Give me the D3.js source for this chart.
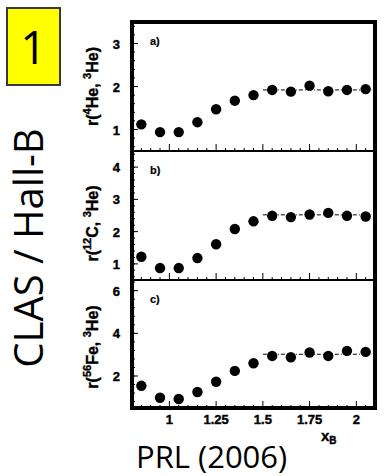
<!DOCTYPE html>
<html>
<head>
<meta charset="utf-8">
<script src="https://cdn.jsdelivr.net/npm/d3@7"></script>
<style>
  body { margin: 0; background: #fff; }
  svg { display: block; }
</style>
</head>
<body>
<div id="chart"></div>
<script>
// x_B bins and the three ratio series
var xB = [0.85, 0.95, 1.05, 1.15, 1.25, 1.35, 1.45, 1.55, 1.65, 1.75, 1.85, 1.95, 2.05];
var ratioHe4 = [1.12, 0.94, 0.94, 1.17, 1.47, 1.67, 1.80, 1.92, 1.88, 2.02, 1.89, 1.92, 1.94];
var ratioC12 = [1.22, 0.87, 0.87, 1.18, 1.61, 2.08, 2.32, 2.49, 2.45, 2.53, 2.58, 2.49, 2.47];
var ratioFe56 = [1.54, 0.98, 0.92, 1.25, 1.73, 2.24, 2.60, 2.94, 2.88, 3.10, 2.94, 3.18, 3.13];
var plateau = [1.92, 2.52, 3.02];
var panelTags = ["a)", "b)", "c)"];
var nuclei = [["4", "He"], ["12", "C"], ["56", "Fe"]];
var yDomains = [[0.5, 3.5], [0.5, 4.5], [0.5, 6.5]];
var yMajor = [[1, 2, 3], [1, 2, 3, 4], [2, 4, 6]];
var xMajor = [1, 1.25, 1.5, 1.75, 2];

var width = 385, height = 476;
var left = 132, right = 375;
var panelTop = [22, 151, 280], panelBottom = [151, 280, 408];
var titleShift = [0, 8, 3];

var svg = d3.select("#chart").append("svg")
  .attr("width", width)
  .attr("height", height);

var x = d3.scaleLinear().domain([0.8, 2.1]).range([left, right]);
var series = [ratioHe4, ratioC12, ratioFe56];

function boldText(sel, size) {
  return sel
    .style("font-family", "Liberation Sans, Arial, sans-serif")
    .style("font-weight", "bold")
    .style("font-size", size + "px")
    .attr("stroke", "#000")
    .attr("stroke-width", 0.4);
}

// big rotated title and the yellow number box
svg.append("rect")
  .attr("x", 7).attr("y", 8).attr("width", 53).attr("height", 77)
  .attr("fill", "#ffff00").attr("stroke", "#3a3a3a").attr("stroke-width", 2);
svg.append("text")
  .attr("x", 33.5).attr("y", 64)
  .attr("text-anchor", "middle")
  .style("font-family", "Open Sans, sans-serif")
  .style("font-size", "46px")
  .text("1");

svg.append("text")
  .attr("transform", "translate(43,248) rotate(-90)")
  .attr("text-anchor", "middle")
  .style("font-family", "Open Sans, sans-serif")
  .style("font-size", "40px")
  .text("CLAS / Hall-B");

series.forEach(function(vals, i) {
  var y = d3.scaleLinear().domain(yDomains[i]).range([panelBottom[i], panelTop[i]]);
  var g = svg.append("g");

  // x ticks, inward
  var minorX = d3.range(0.85, 2.1, 0.05);
  g.selectAll(".xminor").data(minorX).enter().append("line")
    .attr("x1", function(d) { return x(d); })
    .attr("x2", function(d) { return x(d); })
    .attr("y1", panelBottom[i])
    .attr("y2", function(d) {
      var major = xMajor.some(function(m) { return Math.abs(m - d) < 1e-6; });
      return panelBottom[i] - (major ? 7 : 3);
    })
    .attr("stroke", "#000").attr("stroke-width", 1);

  // y ticks, inward
  var step = i == 2 ? 0.4 : 0.2;
  var minorY = d3.range(Math.ceil(yDomains[i][0] / step) * step, yDomains[i][1], step);
  g.selectAll(".yminor").data(minorY).enter().append("line")
    .attr("x1", left).attr("x2", left + 3)
    .attr("y1", function(d) { return y(d); })
    .attr("y2", function(d) { return y(d); })
    .attr("stroke", "#000").attr("stroke-width", 1);
  g.selectAll(".ymajor").data(yMajor[i]).enter().append("line")
    .attr("x1", left).attr("x2", left + 6)
    .attr("y1", function(d) { return y(d); })
    .attr("y2", function(d) { return y(d); })
    .attr("stroke", "#000").attr("stroke-width", 1);
  boldText(g.selectAll(".ylab").data(yMajor[i]).enter().append("text"), 13)
    .attr("x", left - 12)
    .attr("y", function(d) { return y(d) + 5; })
    .attr("text-anchor", "end")
    .text(function(d) { return d; });

  // panel tag
  boldText(g.append("text"), 11)
    .attr("x", 150).attr("y", panelTop[i] + 23)
    .attr("stroke-width", 0.2)
    .text(panelTags[i]);

  // plateau line
  g.append("line")
    .attr("x1", x(1.5)).attr("x2", x(2.08))
    .attr("y1", y(plateau[i])).attr("y2", y(plateau[i]))
    .attr("stroke", "#000").attr("stroke-width", 1)
    .attr("stroke-dasharray", "4,2,1,2");

  g.selectAll("circle").data(vals).enter().append("circle")
    .attr("cx", function(d, j) { return x(xB[j]); })
    .attr("cy", function(d) { return y(d); })
    .attr("r", 5.2)
    .attr("fill", "#000");

  // y axis title r(A, 3He)
  var cy = (panelTop[i] + panelBottom[i]) / 2 + titleShift[i];
  var t = boldText(g.append("text"), 16)
    .attr("transform", "translate(98," + cy + ") rotate(-90)")
    .attr("text-anchor", "middle");
  t.append("tspan").text("r(");
  t.append("tspan").attr("dy", -7).style("font-size", "11px").text(nuclei[i][0]);
  t.append("tspan").attr("dy", 7).text(nuclei[i][1] + ", ");
  t.append("tspan").attr("dy", -7).style("font-size", "11px").text("3");
  t.append("tspan").attr("dy", 7).text("He)");
});

// frame: thick outer box, thinner dividers
svg.append("line").attr("x1", left).attr("x2", right)
  .attr("y1", panelBottom[0]).attr("y2", panelBottom[0])
  .attr("stroke", "#000").attr("stroke-width", 2);
svg.append("line").attr("x1", left).attr("x2", right)
  .attr("y1", panelBottom[1]).attr("y2", panelBottom[1])
  .attr("stroke", "#000").attr("stroke-width", 2);
svg.append("rect")
  .attr("x", left).attr("y", panelTop[0])
  .attr("width", right - left).attr("height", panelBottom[2] - panelTop[0])
  .attr("fill", "none").attr("stroke", "#000").attr("stroke-width", 4);

// x tick labels
boldText(svg.selectAll(".xlab").data(xMajor).enter().append("text"), 13)
  .attr("x", function(d) { return x(d); })
  .attr("y", 424)
  .attr("text-anchor", "middle")
  .text(function(d) { return d; });

var xt = boldText(svg.append("text"), 15)
  .attr("x", 321).attr("y", 441);
xt.append("tspan").text("x");
xt.append("tspan").attr("dy", 3).style("font-size", "10px").text("B");

svg.append("text")
  .attr("x", 136).attr("y", 468)
  .style("font-family", "Open Sans, sans-serif")
  .style("font-size", "31px")
  .text("PRL (2006)");
</script>
</body>
</html>
